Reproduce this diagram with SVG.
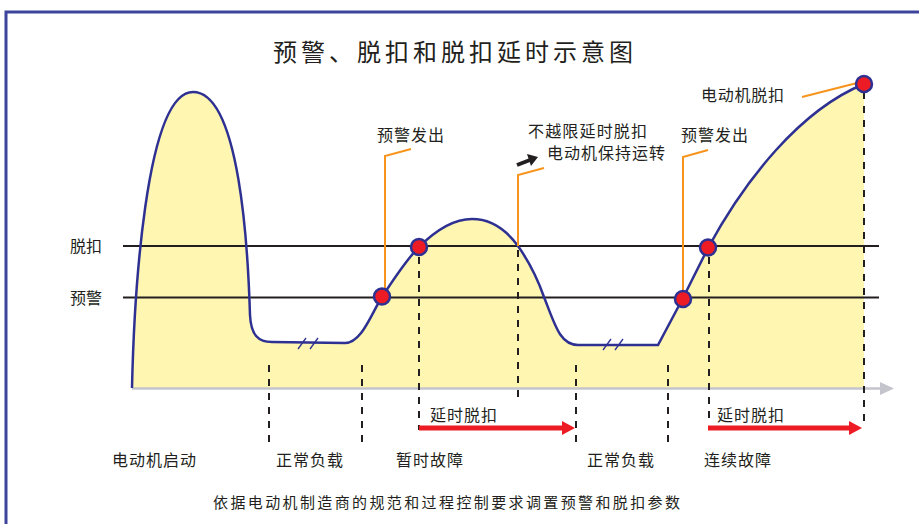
<svg xmlns="http://www.w3.org/2000/svg" width="919" height="524" viewBox="0 0 919 524">
<defs>
<style>
.t{font-family:"Noto Sans CJK SC","Noto Sans",sans-serif;fill:#231f20;font-size:16px}
.dash{stroke:#231f20;stroke-width:2;stroke-dasharray:7,7;fill:none}
.lvl{stroke:#231f20;stroke-width:2.2}
.lead{stroke:#f7941d;stroke-width:2;fill:none}
.dot{fill:#ed1c24;stroke:#2e3192;stroke-width:2.5}
.brk{stroke:#2e3192;stroke-width:1.3}
</style>
</defs>
<rect x="0" y="0" width="919" height="524" fill="#ffffff"/>
<rect x="6" y="12" width="940" height="540" fill="none" stroke="#3d449c" stroke-width="3"/>
<text class="t" x="273" y="61" style="font-size:24px" textLength="360" lengthAdjust="spacing">预警、脱扣和脱扣延时示意图</text>

<g id="chart">
<path d="M132,388 C134,300 145,92 193,92 C240,92 248,250 250,315 C251,335 258,342 272,342 L345,343 C362,343 372,312 382,297 C395,277 407,259 419,247 C435,231 452,219 472,219 C495,219 510,235 518,246 C530,263 538,280 544,297 C555,325 560,345 578,345 L658,345 L683,298 L708,248 C745,180 800,110 864,84 L864,388 Z" fill="#fff6b2" stroke="none"/>
<line x1="132" y1="388.5" x2="882" y2="388.5" stroke="#c4c4cc" stroke-width="2.5"/>
<polygon points="880,382 894,388.5 880,395" fill="#c4c4cc"/>
<line class="lvl" x1="123" y1="246" x2="879" y2="246"/>
<line class="lvl" x1="123" y1="297.5" x2="879" y2="297.5"/>
<path d="M132,388 C134,300 145,92 193,92 C240,92 248,250 250,315 C251,335 258,342 272,342 L345,343 C362,343 372,312 382,297 C395,277 407,259 419,247 C435,231 452,219 472,219 C495,219 510,235 518,246 C530,263 538,280 544,297 C555,325 560,345 578,345 L658,345 L683,298 L708,248 C745,180 800,110 864,84" fill="none" stroke="#2e3192" stroke-width="2.5"/>
<line class="brk" x1="298" y1="349" x2="306" y2="338"/>
<line class="brk" x1="310" y1="349" x2="318" y2="338"/>
<line class="brk" x1="603" y1="350" x2="611" y2="339"/>
<line class="brk" x1="615" y1="350" x2="623" y2="339"/>
</g>

<g id="connectors">
<line class="dash" x1="269" y1="365" x2="269" y2="446"/>
<line class="dash" x1="362" y1="365" x2="362" y2="446"/>
<line class="dash" x1="419" y1="257" x2="419" y2="430"/>
<line class="dash" x1="518" y1="250" x2="518" y2="398"/>
<line class="dash" x1="576" y1="365" x2="576" y2="446"/>
<line class="dash" x1="668" y1="365" x2="668" y2="446"/>
<line class="dash" x1="709" y1="257" x2="709" y2="423"/>
<line class="dash" x1="864" y1="92" x2="864" y2="424"/>
<polyline class="lead" points="411,149 385,156 385,290"/>
<polyline class="lead" points="544,168 518,175 518,246"/>
<polyline class="lead" points="708,150 683,157 683,291"/>
<line class="lead" x1="802" y1="97" x2="857" y2="83"/>
<line x1="419" y1="428" x2="563" y2="428" stroke="#ed1c24" stroke-width="5"/>
<polygon points="562,421 575,428 562,435" fill="#ed1c24"/>
<line x1="708" y1="428" x2="850" y2="428" stroke="#ed1c24" stroke-width="5"/>
<polygon points="849,421 862,428 849,435" fill="#ed1c24"/>
<line x1="517" y1="165" x2="530" y2="160" stroke="#231f20" stroke-width="4"/>
<polygon points="527,154 538,157 531,166" fill="#231f20"/>
</g>

<g id="points">
<circle class="dot" cx="382" cy="296.5" r="8"/>
<circle class="dot" cx="419" cy="247" r="8"/>
<circle class="dot" cx="683" cy="299" r="8"/>
<circle class="dot" cx="708" cy="247.5" r="8"/>
<circle class="dot" cx="864" cy="84" r="8"/>
</g>

<g id="labels">
<text class="t" x="70" y="252">脱扣</text>
<text class="t" x="70" y="304">预警</text>
<text class="t" x="701" y="101" textLength="83" lengthAdjust="spacing">电动机脱扣</text>
<text class="t" x="377" y="141" textLength="67" lengthAdjust="spacing">预警发出</text>
<text class="t" x="681" y="141" textLength="67" lengthAdjust="spacing">预警发出</text>
<text class="t" x="528" y="137" textLength="119" lengthAdjust="spacing">不越限延时脱扣</text>
<text class="t" x="547" y="159" textLength="118" lengthAdjust="spacing">电动机保持运转</text>
<text class="t" x="430" y="421" textLength="67" lengthAdjust="spacing">延时脱扣</text>
<text class="t" x="717" y="421" textLength="67" lengthAdjust="spacing">延时脱扣</text>
<text class="t" x="112" y="466" textLength="84" lengthAdjust="spacing">电动机启动</text>
<text class="t" x="276" y="466" textLength="67" lengthAdjust="spacing">正常负载</text>
<text class="t" x="396" y="466" textLength="67" lengthAdjust="spacing">暂时故障</text>
<text class="t" x="587" y="466" textLength="67" lengthAdjust="spacing">正常负载</text>
<text class="t" x="704" y="466" textLength="67" lengthAdjust="spacing">连续故障</text>
<text class="t" x="213" y="508" style="font-size:15px" textLength="467" lengthAdjust="spacing">依据电动机制造商的规范和过程控制要求调置预警和脱扣参数</text>
</g>
</svg>
